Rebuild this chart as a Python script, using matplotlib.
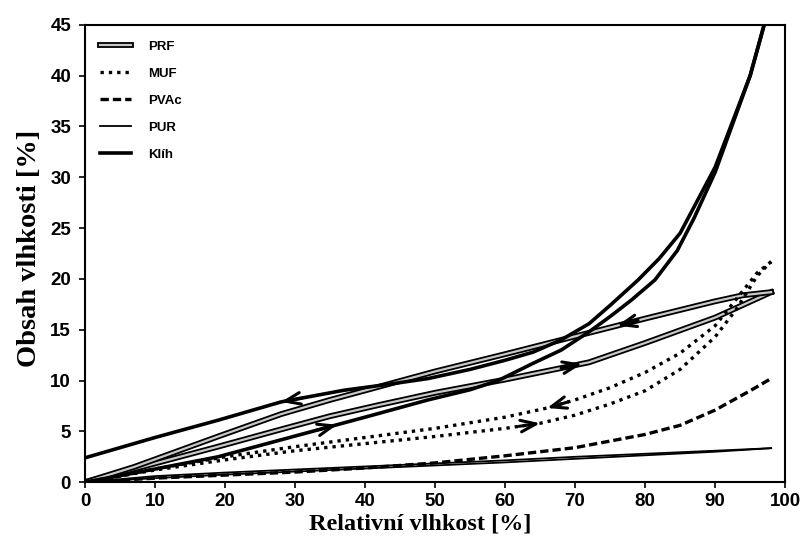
import numpy as np
import matplotlib
matplotlib.use('Agg')
import matplotlib.pyplot as plt
import matplotlib.patheffects as pe

# sorption isotherms (relative humidity [%] -> moisture content [%])
klih_ads_x = [0, 10, 19, 33, 40, 49, 55, 59, 64, 68, 72, 75, 78, 81.4, 84.6, 87, 90, 95, 97]
klih_ads_y = [0, 1.3, 2.5, 5.1, 6.4, 8.1, 9.1, 10.0, 11.7, 13.0, 14.8, 16.3, 17.9, 19.9, 22.8, 26.0, 30.5, 40.0, 45.0]
klih_des_x = [97, 95, 90, 85, 82, 79, 75, 72, 68, 64, 60, 55, 49, 43, 37, 28, 19, 10, 0]
klih_des_y = [45.0, 40.0, 31.0, 24.5, 22.0, 19.9, 17.4, 15.6, 14.0, 12.8, 12.0, 11.1, 10.2, 9.6, 9.05, 7.9, 6.1, 4.4, 2.4]

prf_ads_x = [0, 7, 19, 28, 35, 42, 50, 60, 72, 80, 90, 98]
prf_ads_y = [0, 1.3, 3.5, 5.2, 6.5, 7.6, 8.8, 10.1, 11.8, 13.7, 16.2, 18.7]
prf_des_x = [98, 94, 90, 80, 72, 60, 50, 42, 35, 28, 19, 7, 0]
prf_des_y = [18.7, 18.4, 17.8, 16.1, 14.7, 12.6, 10.9, 9.4, 8.1, 6.7, 4.5, 1.5, 0]

muf_ads_x = [0, 5, 10, 20, 30, 40, 50, 60, 65, 70, 75, 80, 85, 90, 93, 96, 98]
muf_ads_y = [0, 0.6, 1.2, 2.2, 3.1, 3.8, 4.5, 5.3, 5.8, 6.6, 7.7, 9.0, 11.1, 14.3, 17.0, 20.3, 21.7]
muf_des_x = [98, 96, 93, 90, 85, 80, 75, 70, 66, 60, 50, 40, 30, 20, 10, 5, 0]
muf_des_y = [21.7, 20.6, 18.0, 15.4, 12.7, 10.8, 9.3, 8.1, 7.3, 6.4, 5.3, 4.4, 3.5, 2.5, 1.3, 0.6, 0]

pvac_x = [0, 10, 20, 30, 40, 50, 60, 70, 80, 85, 90, 95, 98]
pvac_y = [0, 0.4, 0.7, 1.0, 1.4, 1.9, 2.6, 3.4, 4.7, 5.6, 7.1, 9.0, 10.2]

pur_ads_x = [0, 10, 20, 30, 40, 50, 60, 70, 80, 90, 98]
pur_ads_y = [0, 0.4, 0.75, 1.05, 1.35, 1.65, 1.95, 2.3, 2.65, 3.0, 3.35]
pur_des_y = [0, 0.6, 0.95, 1.25, 1.55, 1.85, 2.15, 2.5, 2.8, 3.1, 3.35]

x_ticks = [0, 10, 20, 30, 40, 50, 60, 70, 80, 90, 100]
y_ticks = [0, 5, 10, 15, 20, 25, 30, 35, 40, 45]

fig = plt.figure(figsize=(8.02, 5.40), dpi=100)
ax = fig.add_axes([0.106, 0.107, 0.873, 0.847])

prf_fx = [pe.Stroke(linewidth=4.2, foreground='black'), pe.Normal()]

ax.plot(prf_ads_x, prf_ads_y, color='#c8c8c8', lw=1.6, path_effects=prf_fx, label='PRF')
ax.plot(prf_des_x, prf_des_y, color='#c8c8c8', lw=1.6, path_effects=prf_fx)
ax.plot(muf_ads_x, muf_ads_y, color='black', lw=2.4, ls=(0, (1, 1.5)), label='MUF')
ax.plot(muf_des_x, muf_des_y, color='black', lw=2.4, ls=(0, (1, 1.5)))
ax.plot(pvac_x, pvac_y, color='black', lw=2.4, ls=(0, (2.5, 1.2)), label='PVAc')
ax.plot(pur_ads_x, pur_ads_y, color='black', lw=1.3, label='PUR')
ax.plot(pur_ads_x, pur_des_y, color='black', lw=1.3)
ax.plot(klih_ads_x, klih_ads_y, color='black', lw=2.6, label='Klíh')
ax.plot(klih_des_x, klih_des_y, color='black', lw=2.6)


def chevron(xs, ys, x0, direction):
    # open arrow head placed on the curve, pointing along it
    xs = np.asarray(xs, float)
    ys = np.asarray(ys, float)
    order = np.argsort(xs)
    y0 = np.interp(x0, xs[order], ys[order])
    xb = x0 - 3 * direction
    yb = np.interp(xb, xs[order], ys[order])
    ax.annotate('', xy=(x0, y0), xytext=(xb, yb),
                arrowprops=dict(arrowstyle='->,head_length=1.1,head_width=0.42',
                                lw=2.2, color='black', shrinkA=0, shrinkB=0))


chevron(klih_des_x, klih_des_y, 28, -1)
chevron(klih_ads_x, klih_ads_y, 36, 1)
chevron(prf_des_x, prf_des_y, 76, -1)
chevron(prf_ads_x, prf_ads_y, 71, 1)
chevron(muf_des_x, muf_des_y, 66, -1)
chevron(muf_ads_x, muf_ads_y, 65, 1)

ax.set_xlim(0, 100)
ax.set_ylim(0, 45)
ax.set_xticks(x_ticks)
ax.set_yticks(y_ticks)
ax.tick_params(direction='out', length=4, width=1.2)
ax.tick_params(axis='y', pad=6)
ax.tick_params(axis='x', pad=4)
for lab in ax.get_xticklabels() + ax.get_yticklabels():
    lab.set_fontfamily('Liberation Sans')
    lab.set_fontweight('bold')
    lab.set_fontsize(13.5)
for s in ax.spines.values():
    s.set_linewidth(1.5)

ax.set_xlabel('Relativní vlhkost [%]', family='Liberation Serif', weight='bold',
              fontsize=17.5, labelpad=1)
ax.xaxis.set_label_coords(0.479, -0.068)
ax.set_ylabel('Obsah vlhkosti [%]', family='Liberation Serif', weight='bold',
              fontsize=20.5, labelpad=6)
ax.yaxis.set_label_coords(-0.062, 0.512)

leg = ax.legend(loc='upper left', bbox_to_anchor=(0.005, 0.992), frameon=False,
                handlelength=2.3, handletextpad=1.3, labelspacing=1.12,
                prop={'family': 'Liberation Sans', 'weight': 'bold', 'size': 9.5})

fig.savefig('out.png', dpi=100)
